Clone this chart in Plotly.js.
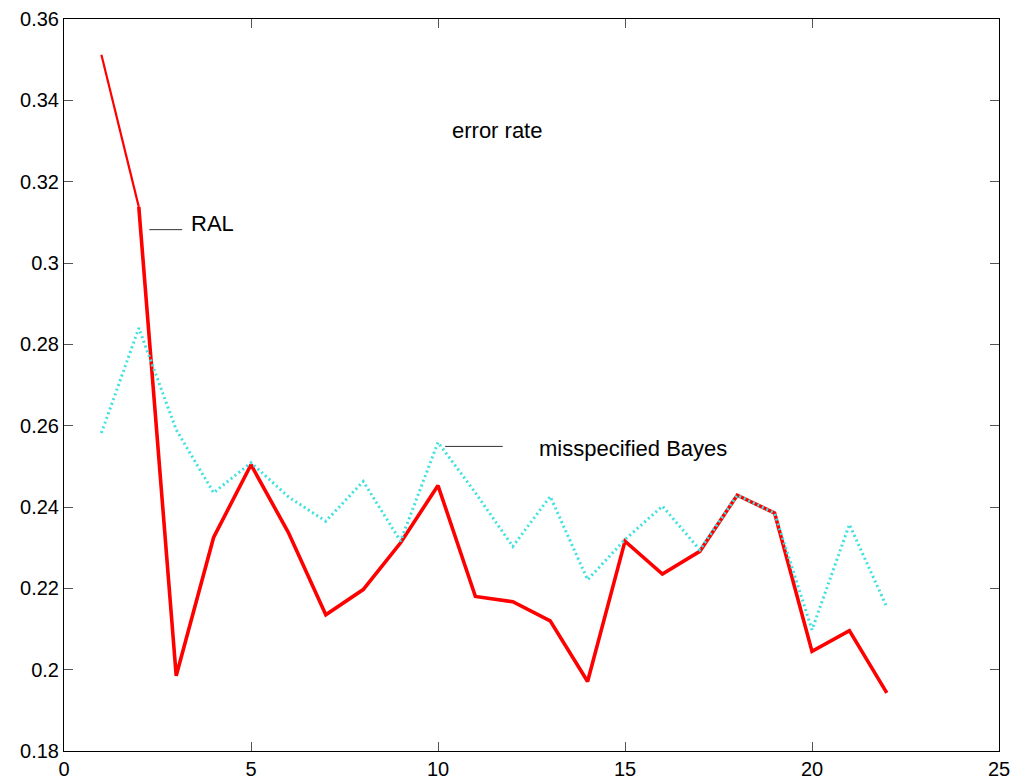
<!DOCTYPE html>
<html>
<head>
<meta charset="utf-8">
<script src="https://cdn.plot.ly/plotly-3.0.1.min.js"></script>
<style>
  html, body { margin: 0; padding: 0; background: #ffffff; }
  #chart { width: 1012px; height: 781px; }
</style>
</head>
<body>
<div id="chart"></div>
<script>
// Iteration index
const iterations = [1, 2, 3, 4, 5, 6, 7, 8, 9, 10, 11, 12, 13, 14, 15, 16, 17, 18, 19, 20, 21, 22];

// Error rate of the RAL method
const ralError = [0.3512, 0.3138, 0.1985, 0.2325, 0.2504, 0.2337, 0.2135, 0.2197, 0.2312, 0.2453, 0.2180,
                  0.2167, 0.2120, 0.1971, 0.2316, 0.2235, 0.2291, 0.2429, 0.2385, 0.2045, 0.2096, 0.1943];

// Error rate of the misspecified Bayes classifier
const bayesError = [0.2582, 0.2840, 0.2590, 0.2435, 0.2509, 0.2425, 0.2365, 0.2463, 0.2316, 0.2559, 0.2435,
                    0.2303, 0.2426, 0.2221, 0.2320, 0.2402, 0.2295, 0.2429, 0.2385, 0.2098, 0.2357, 0.2154];

const xTicks = [0, 5, 10, 15, 20, 25];
const yTicks = [0.18, 0.2, 0.22, 0.24, 0.26, 0.28, 0.3, 0.32, 0.34, 0.36];
const yTickText = ['0.18', '0.2', '0.22', '0.24', '0.26', '0.28', '0.3', '0.32', '0.34', '0.36'];

const FONT = 'Liberation Sans, Arial, sans-serif';
const RED = '#ff0000';
const CYAN = '#3fe0e0';

const traces = [
  {
    // first RAL step is drawn with a thinner stroke
    x: iterations.slice(0, 2), y: ralError.slice(0, 2),
    mode: 'lines', line: {color: RED, width: 2.2}, hoverinfo: 'skip'
  },
  {
    x: iterations.slice(1), y: ralError.slice(1),
    mode: 'lines', line: {color: RED, width: 3.6}
  },
  {
    x: iterations, y: bayesError,
    mode: 'lines', line: {color: CYAN, width: 3, dash: '2px,3px'}
  }
];

const axisCommon = {
  showgrid: false, zeroline: false,
  showline: true, linecolor: '#000000', linewidth: 1,
  mirror: 'allticks', ticks: 'inside', ticklen: 9, tickcolor: '#555555', tickwidth: 1,
  tickfont: {family: FONT, size: 20, color: '#000000'}
};

const layout = {
  width: 1012, height: 781,
  margin: {l: 64, r: 13, t: 19, b: 30},
  paper_bgcolor: '#ffffff', plot_bgcolor: '#ffffff',
  showlegend: false,
  xaxis: Object.assign({}, axisCommon, {
    range: [0, 25], tickmode: 'array', tickvals: xTicks, ticktext: xTicks.map(String)
  }),
  yaxis: Object.assign({}, axisCommon, {
    range: [0.18, 0.36], tickmode: 'array', tickvals: yTicks, ticktext: yTickText
  }),
  shapes: [
    {type: 'line', xref: 'x', yref: 'y', x0: 2.28, x1: 3.16, y0: 0.3082, y1: 0.3082,
     line: {color: '#333333', width: 1}},
    {type: 'line', xref: 'x', yref: 'y', x0: 10.19, x1: 11.73, y0: 0.2549, y1: 0.2549,
     line: {color: '#333333', width: 1}}
  ],
  annotations: [
    {text: 'error rate', x: 11.57, y: 0.3325, xref: 'x', yref: 'y', showarrow: false,
     xanchor: 'center', yanchor: 'middle', font: {family: FONT, size: 22, color: '#000000'}},
    {text: 'RAL', x: 3.96, y: 0.3098, xref: 'x', yref: 'y', showarrow: false,
     xanchor: 'center', yanchor: 'middle', font: {family: FONT, size: 22, color: '#000000'}},
    {text: 'misspecified Bayes', x: 15.21, y: 0.2545, xref: 'x', yref: 'y', showarrow: false,
     xanchor: 'center', yanchor: 'middle', font: {family: FONT, size: 22, color: '#000000'}}
  ]
};

Plotly.newPlot('chart', traces, layout, {staticPlot: true, displayModeBar: false});
</script>
</body>
</html>
